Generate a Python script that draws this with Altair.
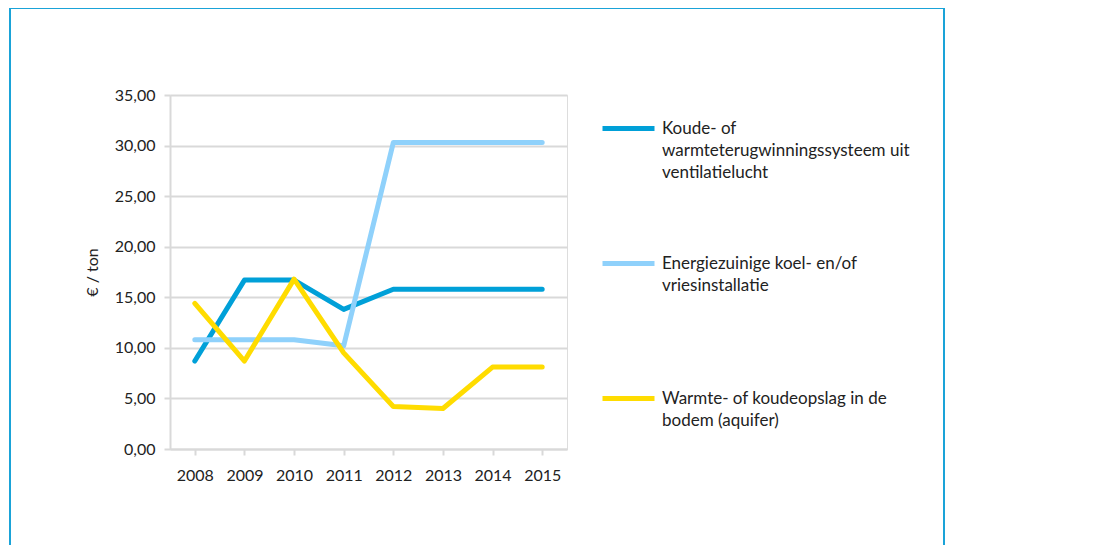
import altair as alt
import pandas as pd

years = ["2008", "2009", "2010", "2011", "2012", "2013", "2014", "2015"]
series_names = [
    "Koude- of|warmteterugwinningssysteem uit|ventilatielucht",
    "Energiezuinige koel- en/of|vriesinstallatie",
    "Warmte- of koudeopslag in de|bodem (aquifer)",
]
koude = [8.7, 16.7, 16.7, 13.8, 15.8, 15.8, 15.8, 15.8]
energie = [10.8, 10.8, 10.8, 10.2, 30.3, 30.3, 30.3, 30.3]
warmte = [14.4, 8.7, 16.8, 9.5, 4.2, 4.0, 8.1, 8.1]
colors = ["#00a0d8", "#8fd1fb", "#ffdc00"]
y_ticks = [0, 5, 10, 15, 20, 25, 30, 35]

rows = []
for name, vals in zip(series_names, [koude, energie, warmte]):
    for yr, v in zip(years, vals):
        rows.append({"jaar": yr, "serie": name, "waarde": v})
df = pd.DataFrame(rows)

FONT = "Lato"

# legend label split on '|' and padded to three lines so every entry has the same height
legend_expr = (
    "split(datum.label + (length(split(datum.label, '|')) < 3 ? '|' : ''), '|')"
)

lines = alt.Chart(df).mark_line(strokeWidth=5, strokeCap="round", strokeJoin="round").encode(
    x=alt.X("jaar:O", sort=years, title=None,
            scale=alt.Scale(paddingInner=0, paddingOuter=0),
            axis=alt.Axis(labelAngle=0, bandPosition=0, ticks=True,
                          tickSize=6, tickColor="#d9d9d9", domainColor="#d9d9d9",
                          domainWidth=2, tickWidth=2,
                          labelFontSize=16, labelFont=FONT, labelColor="#222",
                          labelPadding=12, grid=False)),
    y=alt.Y("waarde:Q", title="€ / ton",
            scale=alt.Scale(domain=[0, 35], nice=False),
            axis=alt.Axis(values=y_ticks,
                          labelExpr="replace(format(datum.value, '.2f'), '.', ',')",
                          labelFontSize=16, labelFont=FONT, labelColor="#222",
                          labelPadding=9,
                          titleFontSize=16, titleFont=FONT, titleFontWeight="normal",
                          titleColor="#222", titlePadding=14,
                          tickSize=6, tickColor="#d9d9d9", tickWidth=2,
                          domainColor="#d9d9d9", domainWidth=2,
                          gridColor="#d9d9d9", gridWidth=2)),
    color=alt.Color("serie:N", sort=series_names,
                    scale=alt.Scale(domain=series_names, range=colors),
                    legend=alt.Legend(title=None, orient="none", legendX=430, legendY=5,
                                      labelExpr=legend_expr,
                                      symbolType="stroke", symbolStrokeWidth=5,
                                      symbolSize=2704, labelFontSize=17, labelFont=FONT,
                                      labelColor="#222",
                                      labelOffset=5, rowPadding=54,
                                      labelLimit=400)),
)

frame = alt.Chart(pd.DataFrame({"k": [0]})).mark_rect(
    fill=None, stroke="#1aa3d8", strokeWidth=2
).encode(x=alt.value(-160), x2=alt.value(774), y=alt.value(-87), y2=alt.value(470))

chart = alt.layer(frame, lines).properties(
    width=397, height=354,
    padding={"left": 162, "top": 87, "right": 521, "bottom": 100},
    autosize=alt.AutoSizeParams(type="none"),
).configure_view(stroke=None).configure(
    style={"guide-label": {"lineHeight": 22}}
)

chart.save("out.html", embed_options={"renderer": "svg", "actions": False})
